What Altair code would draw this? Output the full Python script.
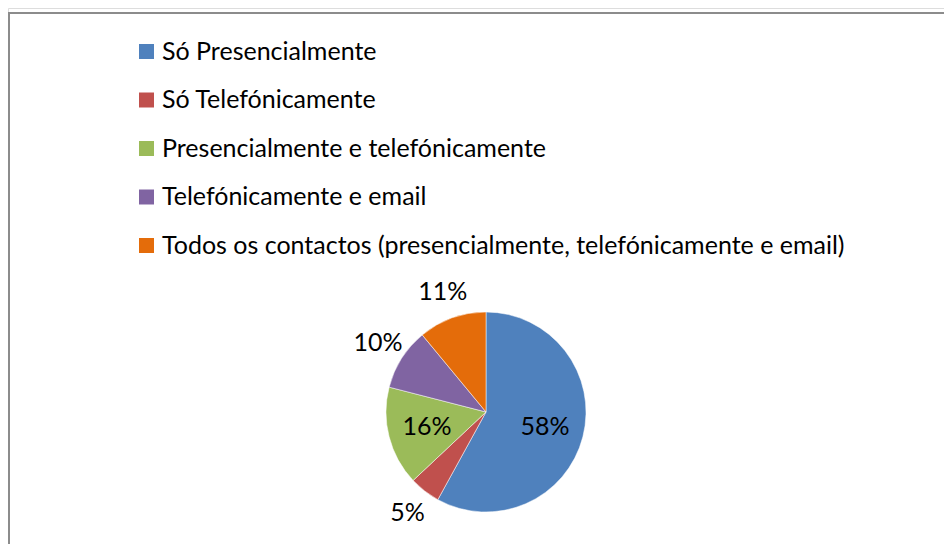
import altair as alt
import pandas as pd

categories = [
    "Só Presencialmente",
    "Só Telefónicamente",
    "Presencialmente e telefónicamente",
    "Telefónicamente e email",
    "Todos os contactos (presencialmente, telefónicamente e email)",
]
values = [58, 5, 16, 10, 11]
colors = ["#4F81BD", "#C0504D", "#9BBB59", "#8064A2", "#E46C0A"]

df = pd.DataFrame({"categoria": categories, "valor": values, "ordem": list(range(len(values)))})
df["rotulo"] = df["valor"].astype(str) + "%"

FONT = "Lato"
FS = 25
CX, CY, R = 478, 404, 100

color = alt.Color(
    "categoria:N",
    scale=alt.Scale(domain=categories, range=colors),
    sort=categories,
    legend=alt.Legend(
        title=None,
        orient="none",
        legendX=126,
        legendY=31,
        symbolType="square",
        symbolSize=225,
        symbolStrokeWidth=0,
        labelFontSize=FS,
        labelFont=FONT,
        labelColor="#000000",
        labelLimit=900,
        labelOffset=3,
        rowPadding=22.5,
    ),
)

pie = alt.Chart(df).mark_arc(radius=R, stroke="#ffffff", strokeWidth=0.5).encode(
    theta=alt.Theta("valor:Q", stack=True),
    order=alt.Order("ordem:Q"),
    color=color,
    x=alt.value(CX),
    y=alt.value(CY),
)

labels = (
    alt.Chart(df)
    .transform_window(cum="sum(valor)", sort=[{"field": "ordem"}], frame=[None, 0])
    .transform_joinaggregate(total="sum(valor)")
    .transform_calculate(
        mid="(datum.cum - datum.valor / 2) / datum.total * 2 * PI",
        lr="datum.valor >= 15 ? 61 : 128",
    )
    .mark_text(font=FONT, fontSize=FS, color="#000000")
    .encode(
        text="rotulo:N",
        theta=alt.Theta("mid:Q", scale=None),
        radius=alt.Radius("lr:Q", scale=None),
        x=alt.value(CX),
        y=alt.value(CY),
    )
)

border_top = alt.Chart(pd.DataFrame({"a": [0]})).mark_rule(color="#8c8c8c", strokeWidth=2).encode(
    x=alt.value(0), x2=alt.value(944), y=alt.value(5)
)
border_left = alt.Chart(pd.DataFrame({"a": [0]})).mark_rule(color="#8c8c8c", strokeWidth=2).encode(
    x=alt.value(1), y=alt.value(4), y2=alt.value(544)
)

chart = (
    alt.layer(pie, labels, border_top, border_left)
    .properties(width=936, height=536, padding=0, autosize=alt.AutoSizeParams(type="none"))
    .configure_view(stroke=None)
    .configure(background="#ffffff")
)

chart.save("out.html", embed_options={"renderer": "svg", "actions": False})
